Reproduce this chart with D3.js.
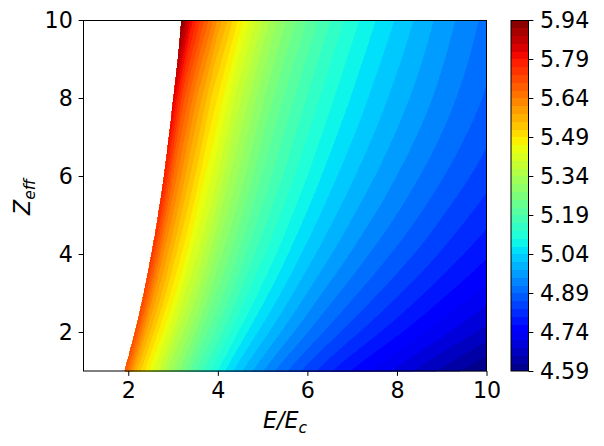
<!DOCTYPE html>
<html><head><meta charset="utf-8">
<script src="https://cdn.jsdelivr.net/npm/d3@7"></script>
<style>
body{margin:0;background:#fff}
svg text{font-family:"DejaVu Sans",sans-serif;fill:#000}
</style>
</head><body>
<svg id="chart" width="604" height="446"></svg>
<script>
// ---------------- data ----------------
// rows: Z_eff values; each row has its own left edge (E/E_c where the field starts)
const zeffRows  = [1, 2, 3, 4, 5, 6, 7, 8, 9, 10];
const boundaryE = [1.92, 2.15, 2.35, 2.52, 2.67, 2.80, 2.91, 3.01, 3.11, 3.19];
// columns: fraction of the way from the row's left edge to E/E_c = 10
const sCols = [0, 0.03, 0.07, 0.12, 0.2, 0.3, 0.4, 0.5, 0.6, 0.7, 0.8, 0.9, 1.0];
const fieldValues = [
  [5.700, 5.561, 5.450, 5.334, 5.184, 5.040, 4.934, 4.851, 4.784, 4.729, 4.679, 4.632, 4.590], // Z=1
  [5.715, 5.584, 5.479, 5.369, 5.228, 5.092, 4.993, 4.914, 4.851, 4.799, 4.752, 4.708, 4.668], // Z=2
  [5.730, 5.605, 5.505, 5.399, 5.264, 5.134, 5.039, 4.963, 4.903, 4.853, 4.808, 4.766, 4.728], // Z=3
  [5.745, 5.624, 5.527, 5.425, 5.294, 5.168, 5.076, 5.003, 4.945, 4.896, 4.853, 4.812, 4.775], // Z=4
  [5.762, 5.643, 5.548, 5.448, 5.320, 5.197, 5.106, 5.035, 4.978, 4.931, 4.888, 4.848, 4.812], // Z=5
  [5.780, 5.663, 5.569, 5.470, 5.344, 5.222, 5.133, 5.062, 5.006, 4.959, 4.917, 4.878, 4.842], // Z=6
  [5.803, 5.686, 5.592, 5.494, 5.367, 5.245, 5.156, 5.086, 5.030, 4.983, 4.941, 4.902, 4.866], // Z=7
  [5.832, 5.714, 5.619, 5.519, 5.392, 5.269, 5.179, 5.108, 5.051, 5.003, 4.961, 4.921, 4.885], // Z=8
  [5.878, 5.756, 5.658, 5.555, 5.423, 5.295, 5.202, 5.129, 5.070, 5.021, 4.977, 4.936, 4.899], // Z=9
  [5.940, 5.811, 5.708, 5.600, 5.461, 5.327, 5.229, 5.152, 5.090, 5.039, 4.992, 4.949, 4.910]  // Z=10
];
const levelMin = 4.59, levelMax = 5.94, nBands = 45;
const cbarTicks = [4.59, 4.74, 4.89, 5.04, 5.19, 5.34, 5.49, 5.64, 5.79, 5.94];
const xTicks = [2, 4, 6, 8, 10];
const yTicks = [2, 4, 6, 8, 10];
const eMax = 10;

// ---------------- rendering ----------------
const levels = d3.range(nBands + 1).map(i => levelMin + (levelMax - levelMin) * i / nBands);

const jr = d3.scaleLinear().domain([0, 0.35, 0.66, 0.89, 1]).range([0, 0, 1, 1, 0.5]).clamp(true);
const jg = d3.scaleLinear().domain([0, 0.125, 0.375, 0.64, 0.91, 1]).range([0, 0, 1, 1, 0, 0]).clamp(true);
const jb = d3.scaleLinear().domain([0, 0.11, 0.34, 0.65, 1]).range([0.5, 1, 1, 0, 0]).clamp(true);
const jet = t => d3.rgb(jr(t) * 255, jg(t) * 255, jb(t) * 255).formatHex();
const bandColor = i => jet((i + 0.5) / nBands);

const svg = d3.select("#chart");
const x = d3.scaleLinear().domain([1, 10]).range([83.5, 486.5]);
const y = d3.scaleLinear().domain([1, 10]).range([371, 20]);

const n = sCols.length, m = zeffRows.length;

// smooth (Catmull-Rom) resampling of the read grid, for drawing only
function cr1(arr, p) {
  const N = arr.length;
  const get = k => k < 0 ? 2 * arr[0] - arr[1] : (k > N - 1 ? 2 * arr[N - 1] - arr[N - 2] : arr[k]);
  p = Math.max(0, Math.min(N - 1, p));
  let i = Math.min(N - 2, Math.floor(p));
  const t = p - i;
  const p0 = get(i - 1), p1 = get(i), p2 = get(i + 1), p3 = get(i + 2);
  return 0.5 * ((2 * p1) + (-p0 + p2) * t + (2 * p0 - 5 * p1 + 4 * p2 - p3) * t * t + (-p0 + 3 * p1 - 3 * p2 + p3) * t * t * t);
}
const F = 8;
const fn = (n - 1) * F + 1, fm = (m - 1) * F + 1;
const fine = new Array(fn * fm);
for (let b = 0; b < fm; b++) {
  const q = b / F;
  for (let a = 0; a < fn; a++) {
    const p = a / F;
    const col = fieldValues.map(row => cr1(row, p));
    fine[b * fn + a] = cr1(col, q);
  }
}

function lookup(arr, p) {
  p = Math.max(0, Math.min(arr.length - 1, p));
  const i = Math.min(arr.length - 2, Math.floor(p));
  const f = p - i;
  return arr[i] * (1 - f) + arr[i + 1] * f;
}
function project(c) {
  const fi = (c[0] - 0.5) / F, fj = (c[1] - 0.5) / F;
  const s = lookup(sCols, fi);
  const zy = lookup(zeffRows, fj);
  const xb = cr1(boundaryE, Math.max(0, Math.min(m - 1, fj)));
  return [x(xb + s * (eMax - xb)), y(zy)];
}
function ringPath(ring) {
  const pts = [];
  for (let k = 0; k < ring.length - 1; k++) {
    const a = ring[k], b = ring[k + 1];
    const len = Math.hypot(b[0] - a[0], b[1] - a[1]);
    const steps = Math.max(1, Math.ceil(len / 1));
    for (let t = 0; t < steps; t++) {
      pts.push(project([a[0] + (b[0] - a[0]) * t / steps, a[1] + (b[1] - a[1]) * t / steps]));
    }
  }
  return "M" + pts.map(p => p[0].toFixed(2) + "," + p[1].toFixed(2)).join("L") + "Z";
}

const thresholds = levels.slice(0, nBands).map((v, i) => i === 0 ? v - 1 : v);
const contours = d3.contours().size([fn, fm]).thresholds(thresholds)(fine);

const gField = svg.append("g");
contours.forEach((c, i) => {
  let d = "";
  c.coordinates.forEach(poly => poly.forEach(ring => { d += ringPath(ring); }));
  if (d) gField.append("path").attr("d", d).attr("fill", bandColor(i))
    .attr("stroke", bandColor(i)).attr("stroke-width", 0.3).attr("shape-rendering", "crispEdges");
});

// frame
svg.append("rect").attr("x", 83.5).attr("y", 20.5).attr("width", 403).attr("height", 350.5)
  .attr("fill", "none").attr("stroke", "#000").attr("stroke-width", 1);

// axes
const fs = 22.2;
const ax = svg.append("g").attr("transform", "translate(0,371)")
  .call(d3.axisBottom(x).tickValues(xTicks).tickSize(4.9).tickPadding(6).tickFormat(d3.format("d")));
const ay = svg.append("g").attr("transform", "translate(83.5,0)")
  .call(d3.axisLeft(y).tickValues(yTicks).tickSize(4.9).tickPadding(5.8).tickFormat(d3.format("d")));
[ax, ay].forEach(g => {
  g.select(".domain").remove();
  g.selectAll("text").attr("font-size", fs).style("font-family", "DejaVu Sans");
  g.selectAll("line").attr("stroke", "#000").attr("stroke-width", 1);
});

// axis labels
const xl = svg.append("text").attr("x", 285).attr("y", 428).attr("text-anchor", "middle")
  .attr("font-size", fs).attr("font-style", "italic");
xl.append("tspan").text("E/E");
xl.append("tspan").attr("font-size", fs * 0.7).attr("dy", 5).text("c");

const yl = svg.append("text").attr("transform", "translate(30,197) rotate(-90)")
  .attr("text-anchor", "middle").attr("font-size", fs).attr("font-style", "italic");
yl.append("tspan").text("Z");
yl.append("tspan").attr("font-size", fs * 0.7).attr("dy", 5).text("eff");

// colorbar
const cb = d3.scaleLinear().domain([levelMin, levelMax]).range([371, 20]);
const gcb = svg.append("g");
d3.range(nBands).forEach(i => {
  const y0 = cb(levels[i]), y1 = cb(levels[i + 1]);
  gcb.append("rect").attr("x", 511).attr("y", y1).attr("width", 17.5).attr("height", y0 - y1 + 0.3)
    .attr("fill", bandColor(i)).attr("shape-rendering", "crispEdges");
});
gcb.append("rect").attr("x", 511).attr("y", 20.5).attr("width", 17.5).attr("height", 350.5)
  .attr("fill", "none").attr("stroke", "#000").attr("stroke-width", 1);
const acb = svg.append("g").attr("transform", "translate(528.5,0)")
  .call(d3.axisRight(cb).tickValues(cbarTicks).tickSize(4.9).tickPadding(6.5).tickFormat(d3.format(".2f")));
acb.select(".domain").remove();
acb.selectAll("text").attr("font-size", fs).style("font-family", "DejaVu Sans");
acb.selectAll("line").attr("stroke", "#000").attr("stroke-width", 1);
</script>
</body></html>
